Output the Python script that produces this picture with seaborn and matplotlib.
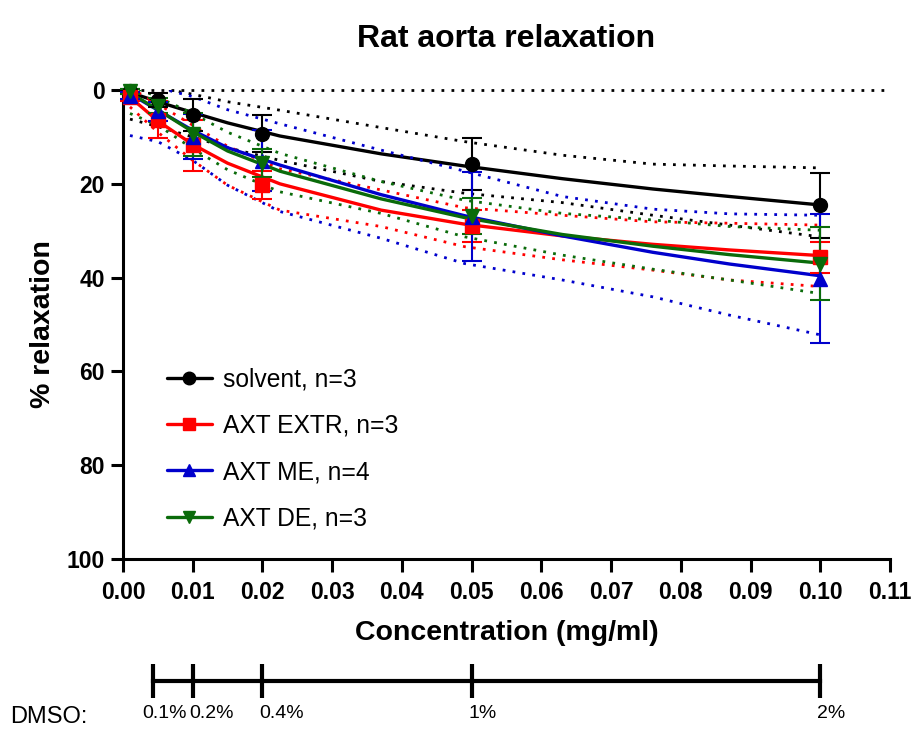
import seaborn as sns
import pandas as pd
import matplotlib.pyplot as plt
from matplotlib.lines import Line2D
from matplotlib.transforms import ScaledTranslation

# measured points (mg/ml, % relaxation, SEM)
conc = [0.001, 0.005, 0.01, 0.02, 0.05, 0.1]
solvent_mean = [0.3, 2.2, 5.3, 9.3, 15.8, 24.6]
solvent_sem = [0.5, 1.5, 3.4, 4.0, 5.5, 6.9]
extr_mean = [1.5, 6.3, 11.8, 20.3, 29.0, 35.7]
extr_sem = [0.8, 3.9, 5.4, 3.0, 3.5, 3.3]
me_mean = [1.2, 4.5, 10.0, 15.1, 27.0, 40.2]
me_sem = [0.8, 2.0, 4.8, 6.5, 9.5, 13.7]
de_mean = [0.3, 3.3, 9.4, 15.6, 26.8, 37.0]
de_sem = [0.5, 1.5, 4.6, 3.0, 3.8, 7.8]

# fitted curves and 95% bands
fit_x = [0.001, 0.005, 0.01, 0.015, 0.0225, 0.037, 0.049, 0.063, 0.076, 0.087, 0.1]
solvent_fit = [0.5, 2.5, 4.8, 7.0, 9.8, 13.6, 16.2, 18.9, 21.1, 22.7, 24.5]
extr_fit = [1.5, 6.6, 11.6, 15.6, 20.0, 25.6, 28.6, 31.1, 32.9, 34.1, 35.3]
me_fit = [0.8, 4.3, 8.6, 12.3, 16.0, 22.3, 26.8, 31.1, 34.6, 37.1, 39.6]
de_fit = [0.6, 4.2, 8.9, 13.0, 17.3, 23.2, 27.2, 30.8, 33.3, 35.1, 36.9]

solvent_up = [-2.0, -0.5, 0.9, 2.5, 4.3, 8.0, 11.0, 13.9, 15.8, 16.2, 16.6]
solvent_lo = [6.2, 7.8, 10.0, 12.3, 15.0, 19.5, 22.0, 24.0, 26.7, 28.8, 31.3]
extr_up = [-0.5, 3.0, 7.5, 12.0, 16.8, 21.3, 25.1, 26.7, 28.1, 28.4, 28.8]
extr_lo = [3.6, 9.0, 15.0, 20.3, 25.6, 29.1, 33.4, 36.2, 38.4, 40.5, 41.9]
me_up = [-6.0, -0.5, 1.4, 4.2, 7.2, 12.8, 17.3, 22.7, 25.4, 26.4, 26.7]
me_lo = [9.7, 11.0, 15.0, 20.3, 25.9, 31.6, 37.0, 40.5, 44.1, 48.0, 52.2]
de_up = [-1.0, 1.5, 5.0, 9.0, 13.5, 19.5, 23.5, 26.3, 27.7, 29.1, 29.9]
de_lo = [5.0, 7.5, 12.5, 17.0, 21.7, 26.3, 31.3, 35.2, 38.2, 40.5, 43.4]

labels = ["solvent, n=3", "AXT EXTR, n=3", "AXT ME, n=4", "AXT DE, n=3"]
colors = ["black", "#ff0000", "#0000cc", "#0a6b0a"]
markers = ["o", "s", "^", "v"]

dmso_pos = [0.0043, 0.01, 0.02, 0.05, 0.1]
dmso_labels = ["0.1%", "0.2%", "0.4%", "1%", "2%"]

sns.set_style("ticks")
plt.rcParams["font.family"] = ["Liberation Sans", "DejaVu Sans"]
plt.rcParams.update({"text.color": "black", "axes.labelcolor": "black",
                     "axes.edgecolor": "black", "xtick.color": "black",
                     "ytick.color": "black"})

fig = plt.figure(figsize=(9.14, 7.38), dpi=100)
ax = fig.add_axes([0.1346, 0.2425, 0.8391, 0.6355])

means = [solvent_mean, extr_mean, me_mean, de_mean]
sems = [solvent_sem, extr_sem, me_sem, de_sem]
fits = [solvent_fit, extr_fit, me_fit, de_fit]
ups = [solvent_up, extr_up, me_up, de_up]
los = [solvent_lo, extr_lo, me_lo, de_lo]

dots = (0, (1, 2.6))
ax.axhline(0, xmin=0.01, color="black", lw=2, ls=dots, clip_on=False)

for i in range(4):
    c = colors[i]
    for band in (ups[i], los[i]):
        sns.lineplot(x=fit_x, y=band, color=c, lw=2, ax=ax)
        ax.lines[-1].set_linestyle(dots)
    sns.lineplot(x=fit_x, y=fits[i], color=c, lw=2.4, ax=ax)

for i in range(4):
    ax.errorbar(conc, means[i], yerr=sems[i], fmt=markers[i], color=colors[i],
                ms=10, elinewidth=1.5, capsize=7, capthick=1.5, clip_on=False,
                zorder=5)

ax.set_xlim(0, 0.11)
ax.set_ylim(100, 0)
ax.set_xticks([i / 100 for i in range(12)])
ax.set_xticklabels([f"{i / 100:.2f}" for i in range(12)])
ax.set_yticks([0, 20, 40, 60, 80, 100])
for s in ["top", "right"]:
    ax.spines[s].set_visible(False)
for s in ["left", "bottom"]:
    ax.spines[s].set_linewidth(2.2)
ax.tick_params(width=2.2, length=9, labelsize=16.5)
ax.tick_params(axis="x", pad=7)
ax.tick_params(axis="y", pad=4)
for t in ax.get_xticklabels() + ax.get_yticklabels():
    t.set_fontweight("bold")
ax.set_xlabel("Concentration (mg/ml)", fontsize=20.5, fontweight="bold", labelpad=11)
ax.set_ylabel("% relaxation", fontsize=20.5, fontweight="bold", labelpad=8)
ax.set_title("Rat aorta relaxation", fontsize=23, fontweight="bold", pad=31)

handles = [Line2D([], [], color=colors[i], marker=markers[i], lw=2.4, ms=9)
           for i in range(4)]
ax.legend(handles, labels, loc="upper left", bbox_to_anchor=(0.028, 0.455),
          frameon=False, fontsize=17.7, handlelength=1.85, handletextpad=0.45,
          labelspacing=0.9)

# DMSO scale below the main axis
ax2 = fig.add_axes([0.1346, 0.077, 0.8391, 0.001])
ax2.set_xlim(0, 0.11)
ax2.set_yticks([])
for s in ["top", "right", "left"]:
    ax2.spines[s].set_visible(False)
ax2.spines["bottom"].set_linewidth(3)
ax2.spines["bottom"].set_bounds(dmso_pos[0], dmso_pos[-1])
ax2.set_xticks(dmso_pos)
ax2.set_xticklabels(dmso_labels)
ax2.tick_params(axis="x", direction="inout", length=24, width=3, pad=5)
for k, t in enumerate(ax2.get_xticklabels()):
    dx = -11 if k == 0 else -3
    t.set_horizontalalignment("left")
    t.set_fontsize(14)
    t.set_transform(t.get_transform() + ScaledTranslation(dx / 100, 0, fig.dpi_scale_trans))
fig.text(0.011, 0.021, "DMSO:", fontsize=17)

fig.savefig("out.png", dpi=100)
